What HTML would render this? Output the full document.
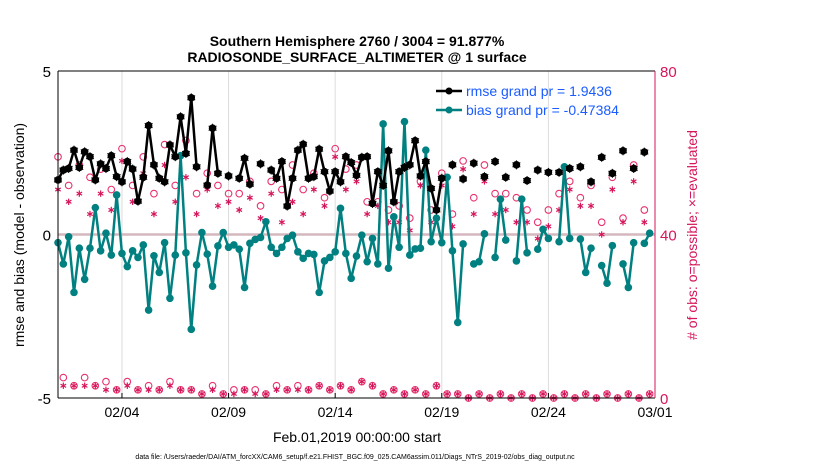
<!DOCTYPE html>
<html><head><meta charset="utf-8"><style>
body{margin:0;background:#fff;}
svg{display:block;font-family:"Liberation Sans",sans-serif;}
</style></head><body>
<svg id="chart" width="830" height="470" viewBox="0 0 830 470">
<text x="357" y="46" text-anchor="middle" font-size="14" font-weight="bold">Southern Hemisphere 2760 / 3004 = 91.877%</text>
<text x="357" y="62" text-anchor="middle" font-size="14" font-weight="bold">RADIOSONDE_SURFACE_ALTIMETER @ 1 surface</text>
<g id="grid"></g>
<g id="marks"></g>
<g id="axes"></g>
<text transform="translate(24,235) rotate(-90)" text-anchor="middle" font-size="14">rmse and bias (model - observation)</text>
<text transform="translate(697,235) rotate(-90)" text-anchor="middle" font-size="14" fill="#d6155b"># of obs: o=possible; ×=evaluated</text>
<text x="357" y="442" text-anchor="middle" font-size="14">Feb.01,2019 00:00:00 start</text>
<text x="355" y="459" text-anchor="middle" font-size="7">data file: /Users/raeder/DAI/ATM_forcXX/CAM6_setup/f.e21.FHIST_BGC.f09_025.CAM6assim.011/Diags_NTrS_2019-02/obs_diag_output.nc</text>
<g>
<line x1="436" y1="91" x2="462" y2="91" stroke="#000" stroke-width="2.5"/>
<circle cx="449" cy="91" r="3.5" fill="#000"/>
<text x="466" y="96" font-size="14" fill="#1a5cff">rmse grand pr = 1.9436</text>
<line x1="436" y1="110" x2="462" y2="110" stroke="#008080" stroke-width="2.5"/>
<circle cx="449" cy="110" r="3.5" fill="#008080"/>
<text x="466" y="115" font-size="14" fill="#1a5cff">bias grand pr = -0.47384</text>
</g>
</svg>
<script>
const xTickLabels=["02/04","02/09","02/14","02/19","02/24","03/01"];
const xTickDays=[3,8,13,18,23,28];
const yLeftTicks=[-5,0,5];
const yRightTicks=[0,40,80];
const rmse=[1.67,1.97,2.02,2.58,2.05,2.53,2.38,1.67,2.16,2.02,2.41,1.77,1.61,2.23,2.0,1.02,1.75,3.33,2.13,1.72,1.61,2.74,2.38,3.6,2.48,4.18,2.07,null,1.51,3.25,1.87,null,1.79,null,1.72,2.33,1.54,null,2.16,null,1.97,1.72,2.23,0.87,1.72,2.58,2.76,1.72,1.77,2.61,1.92,1.33,1.92,1.61,2.38,2.2,1.81,2.36,2.38,0.95,1.92,1.5,2.56,1.0,1.92,2.05,2.13,2.87,1.79,2.23,1.41,0.75,1.72,null,2.13,null,1.70,null,2.18,null,1.77,null,2.23,null,1.75,null,2.13,null,1.65,null,1.97,null,1.90,null,1.90,null,2.02,null,2.07,null,1.61,null,2.36,null,1.87,null,2.56,null,2.02,null,2.52,null,null];
const bias=[-0.25,-0.90,-0.07,-1.77,-0.42,-1.37,-0.42,0.82,-0.50,0.04,-0.63,1.21,-0.58,-0.98,-0.50,-0.70,-0.32,-2.31,-0.65,-1.16,-0.25,-1.95,-0.63,2.41,-0.56,-2.90,-0.93,0.06,-0.60,-1.58,-0.35,0.06,-0.39,-0.32,-0.45,-1.62,-0.27,-0.15,-0.09,0.39,-0.39,-0.58,-0.39,-0.12,-0.02,-0.53,-0.73,-0.58,-0.61,-1.77,-0.81,-0.70,-0.53,0.80,-0.58,-1.34,-0.66,-0.02,-0.83,-0.12,-0.90,3.38,-1.03,0.54,-0.39,3.45,-0.63,-0.44,-0.42,2.58,-0.22,0.50,-0.25,1.75,-0.50,-2.69,-0.29,null,-0.90,-0.83,0.02,null,-0.70,1.08,-0.17,null,-0.81,1.08,-0.56,null,-0.45,0.16,-0.12,null,-0.22,2.07,-0.12,null,-0.14,-1.16,-0.42,null,-0.95,-1.49,-0.34,null,-0.90,-1.62,-0.25,null,-0.27,0.04,null];
const upperPossible=[59,52,57,54,56,51,61,52,59,50,62,52,63,50,55,52,50,50,53,47,53,51,57,51,55,49,61,56,57,48,48,46,47,44,53,46,55,45,58,49,57,50,50,49,46,43,46,50,53,49,52,43,54,44,57,46];
const upperUsed=[51,48,50,45,50,46,58,48,55,45,57,48,54,45,51,47,48,46,49,44,50,43,48,45,51,47,59,51,53,45,47,43,43,41,52,43,52,42,56,45,53,45,46,43,43,39,42,46,51,47,47,40,51,43,53,43];
const lowerPossible=[5,3,5,3,4,2,4,2,3,2,4,2,2,1,3,1,2,2,2,1,3,2,3,2,3,2,3,2,4,3,1,2,1,2,1,3,1,1,0,1,0,1,0,1,0,1,0,1,0,1,0,1,0,1,0,1];
const lowerUsed=[3,3,3,3,2,2,3,2,2,2,3,2,2,1,2,1,1,2,1,1,2,2,2,2,3,2,3,2,4,3,1,2,1,2,1,3,1,1,0,1,0,1,0,1,0,1,0,1,0,1,0,1,0,1,0,1];

const NS="http://www.w3.org/2000/svg";
const X0=58,X1=655,YT=71,YB=398;
function xIdx(i){return X0+(X1-X0)*(i/4)/28;}
function xDay(d){return X0+(X1-X0)*d/28;}
function yL(v){return YB-(v+5)/10*(YB-YT);}
function yR(c){return YB-c/80*(YB-YT);}
function mk(tag,attrs,parent){const e=document.createElementNS(NS,tag);for(const k in attrs)e.setAttribute(k,attrs[k]);parent.appendChild(e);return e;}
const grid=document.getElementById('grid'),marks=document.getElementById('marks'),axes=document.getElementById('axes');
xTickDays.forEach((d,i)=>{
  const l=mk('line',{x1:xDay(d),x2:xDay(d),y1:YT,y2:YB,stroke:'#dcdcdc','stroke-width':1},grid);
  
  
  const t=mk('text',{x:xDay(d),y:YB+19,'text-anchor':'middle','font-size':14},axes);
  t.textContent=xTickLabels[i];
  
  
  mk('line',{x1:xDay(d),x2:xDay(d),y1:YB,y2:YB-5,stroke:'#000'},axes);
});
const zl=mk('line',{x1:X0,x2:X1,y1:yL(0),y2:yL(0),stroke:'#d4b8be','stroke-width':2.5},grid);


function star(cx,cy,p){const r=3.2;[[0,1],[0.87,0.5],[0.87,-0.5]].forEach(([a,b])=>mk('line',{x1:cx-a*r,y1:cy-b*r,x2:cx+a*r,y2:cy+b*r,stroke:'#d6155b','stroke-width':1.2},p));}
function counts(arrP,arrU,off,name){
  const g=mk('g',{},marks);
  
  
  arrP.forEach((c,k)=>{const x=xIdx(2*k+off);mk('circle',{cx:x,cy:yR(c),r:3.3,fill:'none',stroke:'#e8336e','stroke-width':1.1},g);});
  arrU.forEach((c,k)=>{star(xIdx(2*k+off),yR(c),g);});
}
counts(upperPossible,upperUsed,0,'obs-count-upper');
counts(lowerPossible,lowerUsed,1,'obs-count-lower');
function series(arr,color,name,spiky){
  const g=mk('g',{},marks);
  
  
  for(let i=0;i<arr.length-1;i++){
    if(arr[i]!=null&&arr[i+1]!=null)mk('line',{x1:xIdx(i),y1:yL(arr[i]),x2:xIdx(i+1),y2:yL(arr[i+1]),stroke:color,'stroke-width':2.5},g);
  }
  arr.forEach((v,i)=>{if(v==null)return;mk('circle',{cx:xIdx(i),cy:yL(v),r:3.8,fill:color},g);
    if(spiky)[[0,1],[0.87,0.5],[0.87,-0.5]].forEach(([a,b])=>mk('line',{x1:xIdx(i)-a*4.5,y1:yL(v)-b*4.5,x2:xIdx(i)+a*4.5,y2:yL(v)+b*4.5,stroke:color,'stroke-width':1},g));});
}
series(bias,'#008080','bias-series',false);
series(rmse,'#000000','rmse-series',true);
mk('line',{x1:X0,x2:X0,y1:YT,y2:YB,stroke:'#000'},axes);
mk('line',{x1:X0,x2:X1,y1:YT,y2:YT,stroke:'#000'},axes);
mk('line',{x1:X0,x2:X1,y1:YB,y2:YB,stroke:'#000'},axes);
mk('line',{x1:X1,x2:X1,y1:YT,y2:YB,stroke:'#d6155b'},axes);
yLeftTicks.forEach(v=>{const t=mk('text',{x:X0-7,y:yL(v)+6,'text-anchor':'end','font-size':15},axes);t.textContent=v;
  
  });
yRightTicks.forEach(v=>{const t=mk('text',{x:X1+5,y:yR(v)+6,'font-size':15,fill:'#d6155b'},axes);t.textContent=v;
  
  });
</script>
</body></html>
